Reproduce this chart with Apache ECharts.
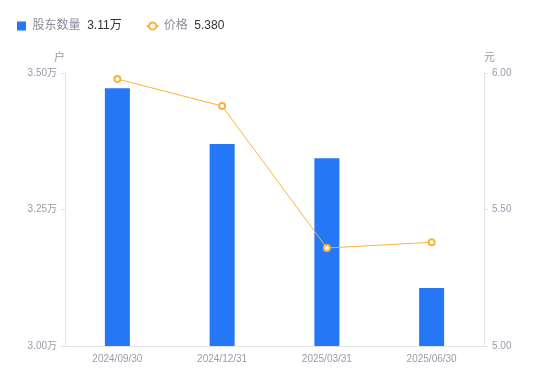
<!DOCTYPE html>
<html><head><meta charset="utf-8">
<script src="https://cdn.jsdelivr.net/npm/echarts@6/dist/echarts.min.js"></script>
<style>html,body{margin:0;padding:0;background:#fff}#c{width:550px;height:381px}</style>
</head><body><div id="c"></div>
<script>
const categories = ['2024/09/30','2024/12/31','2025/03/31','2025/06/30'];
const holders = [34720, 33700, 33440, 31060];
const prices = [5.978, 5.879, 5.359, 5.380];
const leftTicks = [30000, 32500, 35000];
const rightTicks = [5.00, 5.50, 6.00];

const chart = echarts.init(document.getElementById('c'));
const legendValues = {'股东数量': '3.11万', '价格': '5.380'};
chart.setOption({
  animation: false,
  textStyle: {fontFamily: 'Liberation Sans, Noto Sans CJK SC, sans-serif'},
  legend: {
    left: 12, top: 15, itemGap: 24, itemWidth: 12, itemHeight: 9,
    data: [{name: '股东数量', icon: 'path://M0,0h9v9h-9z'}, {name: '价格'}],
    formatter: n => '{a|' + n + '}  {b|' + legendValues[n] + '}',
    textStyle: {rich: {a: {color: '#8a8c9c', fontSize: 12}, b: {color: '#333', fontSize: 12}}}
  },
  grid: {left: 65, right: 66, top: 73, bottom: 35},
  xAxis: {
    type: 'category', data: categories,
    axisLine: {lineStyle: {color: '#e3e3e8'}},
    axisTick: {show: false},
    axisLabel: {color: '#9a9bab', fontSize: 10, margin: 8}
  },
  yAxis: [{
    type: 'value', min: leftTicks[0], max: leftTicks[2], interval: 2500,
    name: '户', nameGap: 10, nameTextStyle: {color: '#9a9bab', fontSize: 11, align: 'right'},
    axisLine: {show: true, lineStyle: {color: '#e3e3e8'}},
    axisTick: {show: true, length: 4, lineStyle: {color: '#e3e3e8'}},
    splitLine: {show: false},
    axisLabel: {color: '#9a9bab', fontSize: 10, margin: 8, formatter: v => (v/10000).toFixed(2) + '万'}
  }, {
    type: 'value', min: rightTicks[0], max: rightTicks[2], interval: 0.5,
    name: '元', nameGap: 10, nameTextStyle: {color: '#9a9bab', fontSize: 11, align: 'left'},
    axisLine: {show: true, lineStyle: {color: '#e3e3e8'}},
    axisTick: {show: true, length: 4, lineStyle: {color: '#e3e3e8'}},
    splitLine: {show: false},
    axisLabel: {color: '#9a9bab', fontSize: 10, margin: 8, formatter: v => v.toFixed(2)}
  }],
  series: [{
    name: '股东数量', type: 'bar', data: holders, barWidth: 25,
    itemStyle: {color: '#2577f6'}
  }, {
    name: '价格', type: 'line', yAxisIndex: 1, data: prices,
    symbol: 'circle', symbolSize: 6, showAllSymbol: true,
    lineStyle: {color: '#f7b53b', width: 1},
    itemStyle: {color: '#fff', borderColor: '#f7b53b', borderWidth: 2}
  }]
});
</script></body></html>
